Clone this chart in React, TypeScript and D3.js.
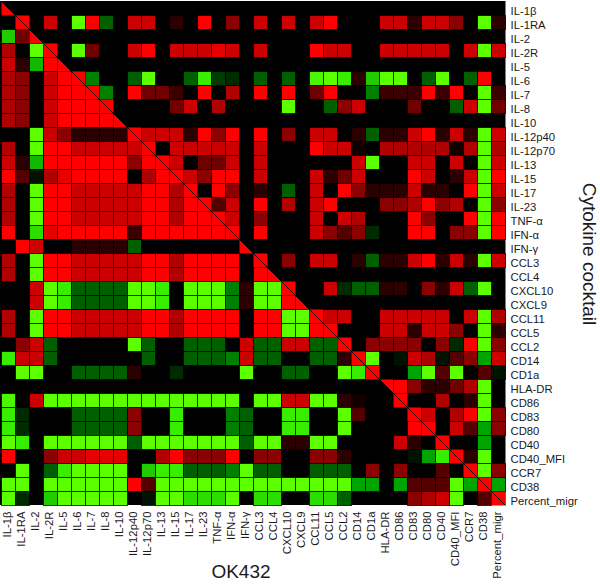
import { useEffect, useRef } from "react"
import * as d3 from "d3"

const markers = [
  "IL-1β", "IL-1RA", "IL-2", "IL-2R", "IL-5", "IL-6", "IL-7", "IL-8", "IL-10",
  "IL-12p40", "IL-12p70", "IL-13", "IL-15", "IL-17", "IL-23", "TNF-α", "IFN-α", "IFN-γ",
  "CCL3", "CCL4", "CXCL10", "CXCL9", "CCL11", "CCL5", "CCL2", "CD14", "CD1a", "HLA-DR",
  "CD86", "CD83", "CD80", "CD40", "CD40_MFI", "CCR7", "CD38", "Percent_migr",
]

// levels: + red, - green, 0 black. below the diagonal cocktail, above OK432
const rows: number[][] = [
  [0,0,0,0,0, 0,0,0,0,0, 0,0,0,0,0, 0,0,0,0,0, 0,0,0,0,0, 0,0,0,0,0, 0,0,0,0,0, 0],
  [0,0,0,8,0, -9,9,-4,0,8, 8,0,2,0,9, 0,6,0,8,0, 8,0,8,9,0, 0,0,8,8,2, 8,8,6,0,-9, 2],
  [-7,5,0,0,0, 0,0,0,0,0, 0,0,0,0,0, 0,0,0,0,0, 0,0,0,0,0, 0,0,0,0,0, 0,0,0,0,0, 0],
  [7,0,-9,0,0, -9,5,0,0,8, 9,0,8,8,8, 8.5,8,0,8,0, 0,0,9,8,8, 0,0,8,8,8, 8,8,0,8,-9, 8],
  [8,2,-6.5,9,0, 0,0,0,0,0, 0,0,0,0,0, 0,0,0,0,0, 0,0,0,0,0, 0,0,0,0,0, 0,0,0,0,0, 0],
  [7,6,0,8,9, 0,-5,0,0,-4, -9,0,0,-4,-8, -3,-2,0,-4,0, -4,0,-8.5,-9,-8, 2,-7,-9,-9,0, -4,-9,0,-4,9, 0],
  [7,6,0,8,9, 9,0,-5,0,9, 5,5,3,0,9, 0,7,0,9,0, 9,0,5,9,0, 0,-5,3,3,3, 9,3,9,0,-9, 3],
  [7,6,0,8,9, 9,9,0,0,0, 0,0,5,8,0, 7,0,0,0,0, -9,0,0,-4,6, 8,0,0,0,5, 0,0,-4,8,-9, 5],
  [7,6,0,8,9, 9,9,9,0,0, 0,0,0,0,0, 0,0,0,0,0, 0,0,0,0,0, 0,0,0,0,0, 0,0,0,0,0, 0],
  [0,0,-9,8,6, 2,2,2,2,0, 8,8,8,2,9, 6,9,0,9,0, 6,0,8,8,0, 2,-4,2,2,8, 9,2,8,2,-9, 8],
  [7,0,-9,9,9, 8,8,8,8,8, 0,0,8,8,8, 8,8,0,8,0, 0,0,9,8,8, 1,0,7,7,7, 7,7,1,7,-9, 7],
  [8,2,-6.5,9,9, 9,9,9,9,6, 9,0,8,0,5, 5,8,0,8,0, 0,0,0,0,0, 8,-9,0,0,8, 8,0,8,0,-9, 8],
  [9,4,-1,7,8.5, 9,9,9,9,0, 7,9,0,8,6, 9,9,0,8,0, 0,0,8,2,5, 8,0,0,0,9, 8,0,2,8,-9, 9],
  [7,0,-9,9,9, 8,8,8,8,8, 9,9,7,0,0, 9,6,0,2,0, -4,0,8,0,9, 6,2,2,2,8, 2,2,0,9,-9, 8],
  [7,0,-9,9,9, 8,8,8,8,8, 9,9,7,9,0, 4,8,0,9,0, 7,0,8,9,0, 0,0,6,6,7, 9,6,7,0,-9, 6],
  [7,0,-9,9,9, 8,8,8,8,8, 9,9,7,9,9, 0,8,0,6,0, 0,0,8,0,8, 7,0,0,0,9, 6,0,0,9,-9, 9],
  [9,0,-7.5,8.5,9, 9,9,9,9,3, 9,9,9,9,9, 9,0,0,9,0, 0,0,8,6,4, 6,-2,0,0,9, 9,0,6,6,-9, 9],
  [0,9,8,0,0, 2,2,2,2,-4, 0,0,0,0,0, 0,0,0,0,0, 0,0,0,0,0, 0,0,0,0,0, 0,0,0,0,0, 0],
  [7,0,-9,9,9, 8,8,8,8,8, 9,9,7,9,9, 9,9,0,0,0, 6,0,8,8,0, 2,-4,2,2,8, 9,2,8,2,-9, 8],
  [7,0,-9,9,9, 8,8,8,8,8, 9,9,7,9,9, 9,9,0,9,0, 0,0,0,0,0, 0,0,0,0,0, 0,0,0,0,0, 0],
  [0,0,8,-9,-8, -4,-4,-4,-4,-9, -9,-8,0,-9,-9, -9,-5,2,-9,-9, 0,0,0,8,-2, -4,-4,2,2,0, 6,2,8,-4,-9, 0],
  [0,0,8,-9,-8, -4,-4,-4,-4,-9, -9,-8,0,-9,-9, -9,-5,2,-9,-9, 9,0,0,0,0, 0,0,0,0,0, 0,0,0,0,0, 0],
  [7,0,-9,9,9, 8,8,8,8,8, 9,9,7,9,9, 9,9,0,9,9, -9,-9,0,8,8, 0,0,8,8,8, 8,8,0,8,-9, 7],
  [7,0,-9,9,9, 8,8,8,8,8, 9,9,7,9,9, 9,9,0,9,9, -9,-9,9,0,0, 0,0,8,8,2, 8,8,6,0,-9, 2],
  [0,6,8,-4,0, 0,0,0,0,-9, -4,0,0,-4,-4, -4,0,8,-4,-4, 8,8,-4,-4,0, 0,6,6,6,6, 0,6,-2,9,-9, 6],
  [-8,8,8,-4,0, 0,0,0,0,0, -4,0,0,-4,-4, -4,-5,8,-4,-4, 0,0,-4,-4,2, 0,-9,0,-1,8, 7,-1,4,6,-6, 8],
  [0,-9,-9,0,0, -4,-4,-4,-4,2, 0,0,-2,0,0, 0,0,-9,0,0, -4,-4,0,0,-9, -8,0,0,0,-6, -9,4,-9,0,4, -1],
  [0,0,0,0,0, 0,0,0,0,0, 0,0,0,0,0, 0,0,0,0,0, 0,0,0,0,0, 0,0,0,9,6, 2,2,5,7,-9, 0],
  [-8.5,0,8,-9,-9, -9,-9,-9,-9,-9, -9,-9,-9,-9,-9, -9,-9,0,-9,-9, 8,8,-9,-9,2, 1,0,0,0,0, 0,7,0,2,-9, 0],
  [-8,-2,0,0,0, -4,-4,-4,-4,6, 0,0,-8,0,0, 0,-5,-4,0,0, -8,-8,0,0,-9, 4,0,0,0,0, 8,0,7,9,-9, 6],
  [-8,-2,0,0,0, -4,-4,-4,-4,6, 0,0,-8,0,0, 0,-5,-4,0,0, -8,-8,0,0,-9, 0,0,0,0,9, 0,0,8,4,-6, 6],
  [-9,-8,0,-9,-9, -9,-9,-9,-9,-4, -9,-9,-9,-9,-9, -9,-9,-4,-9,-9, 2,2,-9,-9,0, 0,0,0,8,2, 0,0,0,0,-6, 0],
  [9,0,0,6,8, 8,8.5,8.5,8.5,0, 0,7,9,6,6, 6,9,0,6,6, 0,0,6,6,2, 0,0,0,0,-1, -6,-8,0,2,-9, 0],
  [0,-9,0,-4,-8, -9,-9,-9,-9,0, -7,-8,-8,-4,-4, -4,-5,-9,-4,-4, 0,0,-4,-4,-4, 0,6,0,6,0, 0,4,0,0,-9, 6],
  [-9,-9,0,-9,-9, -9,-9,-9,-9,9, 4,-9,-9,-9,-9, -9,-9,-9,-9,-9, -9,-9,-9,-9,-9, -6,-6,0,-6,4, 4,4,-9,-6,0, -6],
  [-9,-2,0,-7,-9, -9,-9,-9,-9,0, -1,-9,-9,-7.5,-7.5, -7.5,-9,0,-7.5,-7.5, 0,0,-7.5,-7.5,-4, 0,0,0,0,6, 7,8,-9,0,4, 0],
]

// diagonal cells are split in two, black where that half has nothing
const emptyUpperDiagonal = ["IL-1β", "IL-2", "IL-5", "IL-10", "IFN-γ", "CCL4", "CXCL9"]
const emptyLowerDiagonal = ["HLA-DR"]

const levels = [-9, -8, -7, -6, -5, -4, -3, -2, -1, 0, 1, 2, 3, 4, 5, 6, 7, 8, 9]
const levelColours = [
  "#5cff00", "#38ee00", "#20cc00", "#00a400", "#008000", "#006000", "#003c00", "#002a00", "#001200",
  "#000000",
  "#120000", "#2a0000", "#3a0000", "#550000", "#700000", "#8b0000", "#b00000", "#cc0000", "#ff0000",
]

const W = 600
const H = 585
const gridLeft = 1.5
const gridTop = 1.5
const gridSize = 504

const App = () => {
  const ref = useRef<SVGSVGElement>(null)

  useEffect(() => {
    const svg = d3.select(ref.current)
    svg.selectAll("*").remove()

    const x = d3.scaleBand().domain(markers).range([gridLeft, gridLeft + gridSize])
    const y = d3.scaleBand().domain(markers).range([gridTop, gridTop + gridSize])
    const colour = d3.scaleLinear<string>().domain(levels).range(levelColours)
    const step = x.bandwidth()

    svg
      .append("rect")
      .attr("x", gridLeft - 1.5)
      .attr("y", gridTop - 0.5)
      .attr("width", gridSize + 1.5)
      .attr("height", gridSize)
      .attr("fill", "#000")

    const cells = rows.flatMap((row, i) =>
      row.map((value, j) => ({ rowName: markers[i], colName: markers[j], value }))
    )

    svg
      .append("g")
      .selectAll("rect")
      .data(cells.filter((d) => d.value !== 0 && d.rowName !== d.colName))
      .join("rect")
      .attr("x", (d) => x(d.colName)!)
      .attr("y", (d) => y(d.rowName)!)
      .attr("width", step)
      .attr("height", step)
      .attr("fill", (d) => colour(d.value))
      .attr("stroke", "#000")
      .attr("stroke-opacity", 0.75)
      .attr("stroke-width", 1)

    const diagonal = svg.append("g")
    markers.forEach((name) => {
      const px = x(name)!
      const py = y(name)!
      if (!emptyLowerDiagonal.includes(name)) {
        diagonal
          .append("path")
          .attr("d", `M${px},${py}L${px},${py + step}L${px + step},${py + step}Z`)
          .attr("fill", colour(9))
      }
      if (!emptyUpperDiagonal.includes(name)) {
        diagonal
          .append("path")
          .attr("d", `M${px},${py}L${px + step},${py}L${px + step},${py + step}Z`)
          .attr("fill", colour(9))
      }
    })

    svg
      .append("line")
      .attr("x1", gridLeft)
      .attr("y1", gridTop)
      .attr("x2", gridLeft + gridSize)
      .attr("y2", gridTop + gridSize)
      .attr("stroke", "#000")
      .attr("stroke-width", 0.8)

    const rightAxis = svg
      .append("g")
      .attr("transform", `translate(${gridLeft + gridSize},2.5)`)
      .call(d3.axisRight(y).tickSize(0).tickPadding(5))
    rightAxis.select(".domain").remove()
    rightAxis
      .selectAll("text")
      .attr("font-family", "Liberation Sans")
      .attr("font-size", 11.3)
      .attr("fill", "#1a1a1a")

    const bottomAxis = svg
      .append("g")
      .attr("transform", `translate(-1.5,${gridTop + gridSize})`)
      .call(d3.axisBottom(x).tickSize(0).tickPadding(5))
    bottomAxis.select(".domain").remove()
    bottomAxis
      .selectAll("text")
      .attr("font-family", "Liberation Sans")
      .attr("font-size", 11.3)
      .attr("fill", "#1a1a1a")
      .attr("text-anchor", "end")
      .attr("dy", "0.32em")
      .attr("y", 0)
      .attr("transform", "translate(0,6) rotate(-90)")

    svg
      .append("text")
      .attr("x", 241)
      .attr("y", 578)
      .attr("text-anchor", "middle")
      .attr("font-family", "Liberation Sans")
      .attr("font-size", 19)
      .attr("fill", "#1a1a1a")
      .text("OK432")

    svg
      .append("text")
      .attr("transform", "translate(583,254) rotate(90)")
      .attr("text-anchor", "middle")
      .attr("font-family", "Liberation Sans")
      .attr("font-size", 19)
      .attr("fill", "#1a1a1a")
      .text("Cytokine cocktail")
  }, [])

  return (
    <svg
      ref={ref}
      width={W}
      height={H}
      viewBox={`0 0 ${W} ${H}`}
      style={{ position: "absolute", left: 0, top: 0, background: "#fff" }}
    />
  )
}

export default App
